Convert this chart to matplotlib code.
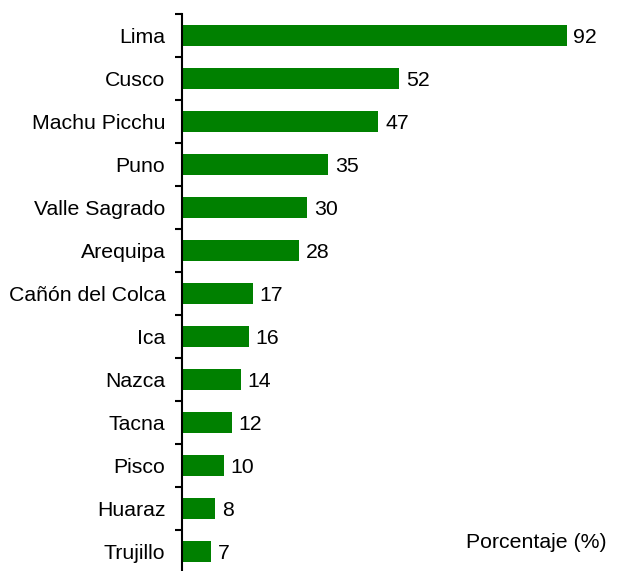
import numpy as np
import matplotlib.pyplot as plt
from matplotlib.ticker import FixedLocator

plt.rcParams['font.family'] = ['Liberation Sans', 'DejaVu Sans']

destinos = ['Lima', 'Cusco', 'Machu Picchu', 'Puno', 'Valle Sagrado', 'Arequipa',
            'Cañón del Colca', 'Ica', 'Nazca', 'Tacna', 'Pisco', 'Huaraz', 'Trujillo']
porcentaje = [92, 52, 47, 35, 30, 28, 17, 16, 14, 12, 10, 8, 7]

fs = 15.3
fig = plt.figure(figsize=(6.19, 5.71), dpi=100)
ax = fig.add_axes([182/619, -2/571, 418/619, 559/571])

y = np.arange(len(destinos))
ax.barh(y, porcentaje, height=0.47, color='#008000')
for yi, v in zip(y, porcentaje):
    ax.text(v + 1.6, yi, str(v), va='center_baseline', ha='left', fontsize=fs)

ax.set_xlim(0, 100)
ax.set_ylim(len(destinos) - 0.5, -0.5)
ax.set_yticks(y)
ax.set_yticklabels(destinos, fontsize=fs, va='center_baseline')
ax.tick_params(axis='y', which='major', length=0, pad=12)
ax.yaxis.set_minor_locator(FixedLocator(np.arange(-0.5, len(destinos), 1)))
ax.tick_params(axis='y', which='minor', length=5, width=1.5, direction='out')
ax.set_xticks([])
for s in ['top', 'right', 'bottom']:
    ax.spines[s].set_visible(False)
ax.spines['left'].set_linewidth(1.5)

fig.text(607/619, 1 - 540/571, 'Porcentaje (%)', ha='right', va='center_baseline', fontsize=fs)

fig.savefig('out.png', dpi=100)
